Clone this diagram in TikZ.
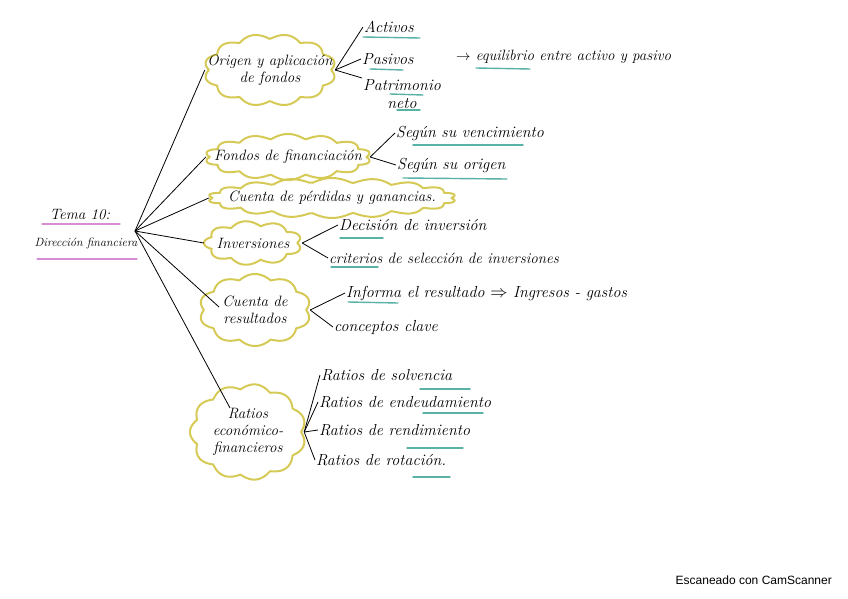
\documentclass[tikz,border=0pt]{standalone}
\usepackage{fontspec}
\setsansfont{Liberation Sans}
\usetikzlibrary{calc}
\definecolor{cloudy}{RGB}{214,202,86}
\definecolor{tealline}{RGB}{88,178,165}
\definecolor{pinkline}{RGB}{214,140,214}
\newcommand\hwfont{\itshape\fontsize{15}{17}\selectfont}
\newcommand\leaffont{\itshape\fontsize{16}{18}\selectfont}
\newcommand\cloudat[5]{%
  \draw[cloudline] plot[domain=0:360, samples=240, smooth]
    ({#1+(#3+5*abs(sin(#5*\x/2)))*cos(\x)},{#2+(#4+5*abs(sin(#5*\x/2)))*sin(\x)});}
\tikzset{
  cloudline/.style={draw=cloudy, line width=2pt},
  topic/.style={rectangle, align=center, font=\hwfont, inner sep=0pt},
  leaf/.style={anchor=west, font=\leaffont, inner sep=1pt},
  link/.style={draw=black, line width=0.8pt},
  uline/.style={draw=tealline, line width=1.4pt, line cap=round},
  pline/.style={draw=pinkline, line width=1.2pt, line cap=round}
}
\begin{document}
\begin{tikzpicture}[x=1pt,y=-1pt]
\useasboundingbox (0,0) rectangle (848,599);
\fill[white] (0,0) rectangle (848,599);
% clouds
\cloudat{270}{70}{61}{31}{12}
\cloudat{288}{157}{78}{18}{14}
\cloudat{332}{198}{119}{15}{18}
\cloudat{253}{243}{44}{17}{9}
\cloudat{255}{310}{51}{31}{10}
\cloudat{248}{432}{53}{43}{11}
% title
\node[font=\itshape\fontsize{15}{17}\selectfont] (t1) at (80,215) {Tema 10:};
\node[font=\itshape\fontsize{12}{14}\selectfont] (t2) at (86,243) {Dirección financiera};
\coordinate (hub) at (135,231);
\draw[pline] (42,224) -- (120,224);
\draw[pline] (37,259) -- (137,259);
% topics
\node[topic, minimum width=130, minimum height=60] (c1) at (270,70) {Origen y aplicación\\de fondos};
\node[topic, minimum width=164, minimum height=36] (c2) at (288,157) {Fondos de financiación};
\node[topic, minimum width=246, minimum height=30] (c3) at (332,198) {Cuenta de pérdidas y ganancias.};
\node[topic, minimum width=98, minimum height=34] (c4) at (253,243) {Inversiones};
\node[topic, minimum width=110, minimum height=60] (c5) at (255,310) {Cuenta de\\resultados};
\node[topic, minimum width=112, minimum height=86] (c6) at (248,432) {Ratios\\económico-\\financieros};
\draw[link] (hub) -- (c1.west);
\draw[link] (hub) -- (c2.west);
\draw[link] (hub) -- (c3.west);
\draw[link] (hub) -- (c4.west);
\draw[link] (hub) -- ($(c5.center)+(-36,-3)$);
\draw[link] (hub) -- ($(c6.center)+(-18,-24)$);
% origen
\node[leaf] (a1) at (363,27) {Activos};
\node[leaf] (a2) at (361,59) {Pasivos};
\node[leaf, anchor=north west, align=center] (a3) at (362,78) {Patrimonio\\neto};
\node[leaf, font=\itshape\fontsize{15}{17}\selectfont] (eq) at (455,57) {$\rightarrow$ equilibrio entre activo y pasivo};
\draw[link] (c1.east) -- (a1.west);
\draw[link] (c1.east) -- (a2.west);
\draw[link] (c1.east) -- (a3.north west);
\draw[uline] (363,37) -- (420,38);
\draw[uline] (370,69) -- (403,70);
\draw[uline] (390,94) -- (423,95);
\draw[uline] (397,110) -- (420,110);
\draw[uline] (476,68) -- (530,69);
% fondos
\node[leaf] (b1) at (395,133) {Según su vencimiento};
\node[leaf] (b2) at (396,165) {Según su origen};
\draw[link] (c2.east) -- (b1.west);
\draw[link] (c2.east) -- (b2.west);
\draw[uline] (413,145) -- (523,145);
\draw[uline] (403,178) -- (507,179);
% inversiones
\node[leaf] (d1) at (338,225) {Decisión de inversión};
\node[leaf, font=\itshape\fontsize{15}{17}\selectfont] (d2) at (328,258) {criterios de selección de inversiones};
\draw[link] (c4.east) -- (d1.west);
\draw[link] (c4.east) -- (d2.west);
\draw[uline] (340,238) -- (383,238);
\draw[uline] (331,267) -- (378,267);
% cuenta de resultados
\node[leaf] (e1) at (345,293) {Informa el resultado $\Rightarrow$ Ingresos - gastos};
\node[leaf] (e2) at (333,327) {conceptos clave};
\draw[link] (c5.east) -- (e1.west);
\draw[link] (c5.east) -- (e2.west);
\draw[uline] (348,302) -- (398,303);
% ratios
\node[leaf] (f1) at (320,375) {Ratios de solvencia};
\node[leaf] (f2) at (318,402) {Ratios de endeudamiento};
\node[leaf] (f3) at (318,430) {Ratios de rendimiento};
\node[leaf] (f4) at (315,460) {Ratios de rotación.};
\draw[link] (c6.east) -- (f1.west);
\draw[link] (c6.east) -- (f2.west);
\draw[link] (c6.east) -- (f3.west);
\draw[link] (c6.east) -- (f4.west);
\draw[uline] (420,389) -- (470,389);
\draw[uline] (423,413) -- (483,413);
\draw[uline] (407,448) -- (463,448);
\draw[uline] (413,477) -- (450,477);
% footer
\node[anchor=east, font=\sffamily\fontsize{12}{14}\selectfont, inner sep=0pt] (foot) at (832,580) {Escaneado con CamScanner};
\end{tikzpicture}
\end{document}
